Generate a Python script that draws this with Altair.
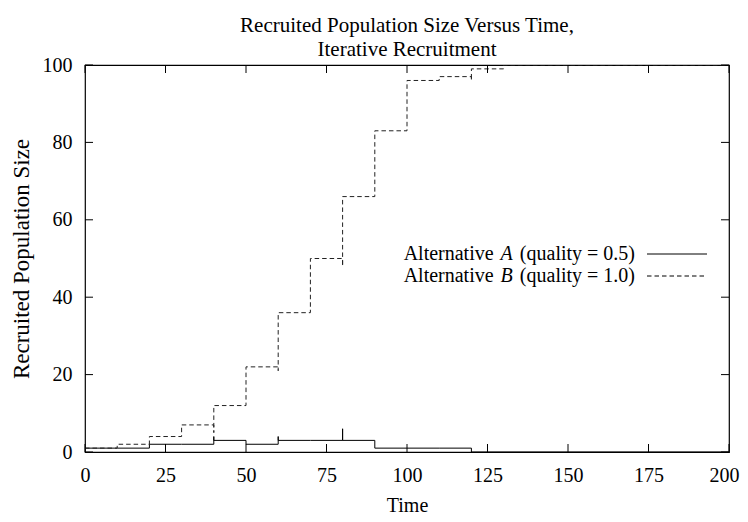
import altair as alt
import pandas as pd

# ---- data ----
time_a = [0, 10, 20, 30, 40, 40, 50, 60, 60, 70, 80, 80, 90, 100, 110, 120, 200]
recruited_a = [1, 1, 2, 2, 4, 3, 2, 4, 3, 3, 6, 3, 1, 1, 1, 0, 0]
time_b = [0, 10, 20, 30, 40, 40, 50, 60, 60, 70, 80, 80, 90, 100, 110, 120, 120, 130, 200]
recruited_b = [1, 2, 4, 7, 5, 12, 22, 21, 36, 50, 48, 66, 83, 96, 97, 96, 99, 100, 100]
x_ticks = [0, 25, 50, 75, 100, 125, 150, 175, 200]
y_ticks = [0, 20, 40, 60, 80, 100]
legend_a = ["Alternative", "A", "(quality = 0.5)"]
legend_b = ["Alternative", "B", "(quality = 1.0)"]

FONT = "Liberation Serif"
FS = 20
W, H = 644, 387
TICK = 8

df_a = pd.DataFrame({"time": time_a, "value": recruited_a, "i": range(len(time_a))})
df_b = pd.DataFrame({"time": time_b, "value": recruited_b, "i": range(len(time_b))})
df_xt = pd.DataFrame({"time": x_ticks})
df_yt = pd.DataFrame({"value": y_ticks})

xscale = alt.Scale(domain=[0, 200], nice=False, zero=False)
yscale = alt.Scale(domain=[0, 100], nice=False, zero=False)

x_axis = alt.Axis(values=x_ticks, ticks=False, domain=False, grid=False, labelPadding=13,
                  labelFont=FONT, labelFontSize=FS, labelColor="black", title="Time",
                  titleFont=FONT, titleFontSize=FS, titleFontWeight="normal", titleColor="black",
                  titlePadding=10, labelFlush=False,
                  labelOffset={"condition": {"test": "datum.value == 200", "value": -5}, "value": 0})
y_axis = alt.Axis(values=y_ticks, ticks=False, domain=False, grid=False, labelPadding=13,
                  labelFont=FONT, labelFontSize=FS, labelColor="black",
                  title="Recruited Population Size", titleFont=FONT, titleFontSize=23,
                  titleFontWeight="normal", titleColor="black", titlePadding=9)

X = alt.X("time:Q", scale=xscale, axis=x_axis)
Y = alt.Y("value:Q", scale=yscale, axis=y_axis)

line_a = alt.Chart(df_a).mark_line(interpolate="step-after", color="black", strokeWidth=1, clip=True).encode(
    x=X, y=Y, order="i:Q",
)
line_b = alt.Chart(df_b).mark_line(interpolate="step-after", color="#222222", strokeWidth=1,
                                   strokeDash=[4.5, 3], clip=True).encode(
    x=X, y=Y, order="i:Q",
)

tick_style = dict(color="black", strokeWidth=1)
xt_bottom = alt.Chart(df_xt).mark_rule(**tick_style).encode(
    x=X, y=alt.value(H), y2=alt.value(H - TICK))
xt_top = alt.Chart(df_xt).mark_rule(**tick_style).encode(
    x=X, y=alt.value(0), y2=alt.value(TICK))
yt_left = alt.Chart(df_yt).mark_rule(**tick_style).encode(
    y=Y, x=alt.value(0), x2=alt.value(TICK))
yt_right = alt.Chart(df_yt).mark_rule(**tick_style).encode(
    y=Y, x=alt.value(W), x2=alt.value(W - TICK))

# ---- manual legend (mixed roman / italic text) ----
# Times / Liberation Serif advance widths (per 1000 em)
WID = {" ": 250, "(": 333, ")": 333, "q": 500, "u": 500, "a": 444, "l": 278, "i": 278,
       "t": 278, "y": 500, "=": 564, ".": 250, "0": 500, "1": 500, "5": 500}
IT = {"A": 611, "B": 611}
LFS = 20


def tw(s):
    return sum(WID.get(c, 500) for c in s) * LFS / 1000.0


RIGHT = 550          # right end of legend text (plot coords)
SX1, SX2 = 562, 622  # sample line
rows = [(legend_a, 189, None), (legend_b, 211, [4.5, 3])]
legend_layers = []
for parts, yy, dash in rows:
    w3 = tw(parts[2])
    sp = tw(" ") + 2
    x3 = RIGHT
    x2 = RIGHT - w3 - sp
    x1 = x2 - IT[parts[1]] * LFS / 1000.0 - sp
    for txt, xx, style in [(parts[0], x1, "normal"), (parts[1], x2, "italic"), (parts[2], x3, "normal")]:
        legend_layers.append(
            alt.Chart(pd.DataFrame({"t": [txt]})).mark_text(
                font=FONT, fontSize=LFS, fontStyle=style, align="right", baseline="middle", color="black"
            ).encode(text="t:N", x=alt.value(xx), y=alt.value(yy))
        )
    rk = dict(color="black", strokeWidth=1)
    if dash:
        rk["strokeDash"] = dash
    legend_layers.append(
        alt.Chart(pd.DataFrame({"t": [0]})).mark_rule(**rk).encode(
            x=alt.value(SX1), x2=alt.value(SX2), y=alt.value(yy))
    )

chart = alt.layer(line_a, line_b, xt_bottom, xt_top, yt_left, yt_right, *legend_layers).properties(
    width=W, height=H,
    padding={"left": 77, "top": 57, "right": 11, "bottom": 62},
    autosize=alt.AutoSizeParams(type="none"),
    background="white",
    title=alt.TitleParams(
        text=["Recruited Population Size Versus Time,", "Iterative Recruitment"],
        font=FONT, fontSize=21, fontWeight="normal", color="black", anchor="middle",
        lineHeight=24, offset=-5,
    ),
).configure_view(stroke="black", strokeWidth=1.2)

chart.save("out.html", embed_options={"renderer": "svg", "actions": False})
